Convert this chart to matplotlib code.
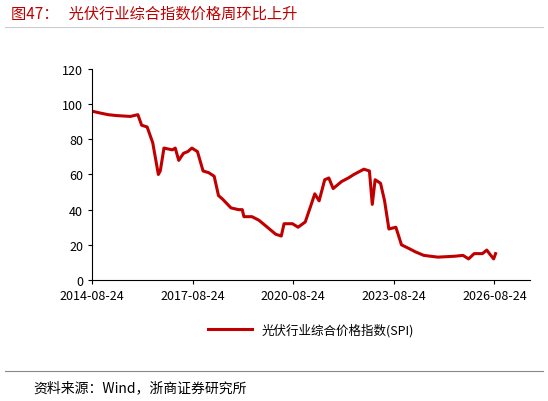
import matplotlib
matplotlib.use("Agg")
import matplotlib.pyplot as plt
import matplotlib.dates as mdates
import pandas as pd

plt.rcParams['font.family'] = ['Noto Sans CJK SC', 'DejaVu Sans']

dates = ["2014-08-24","2014-11-15","2015-02-15","2015-05-15","2015-10-15","2016-01-05","2016-02-15",
         "2016-04-15","2016-06-15","2016-08-15","2016-09-05","2016-10-15","2017-01-15","2017-02-15",
         "2017-03-25","2017-05-15","2017-07-01","2017-08-15","2017-10-15","2017-12-15","2018-02-15",
         "2018-04-15","2018-06-01","2018-07-15","2018-10-15","2019-01-05","2019-02-15","2019-03-05",
         "2019-06-01","2019-08-15","2019-11-15","2020-02-15","2020-04-15","2020-05-15","2020-08-15",
         "2020-10-15","2021-01-01","2021-03-01","2021-04-15","2021-06-01","2021-08-01","2021-09-15",
         "2021-11-01","2022-02-01","2022-04-15","2022-06-15","2022-10-01","2022-12-01","2023-01-01",
         "2023-02-01","2023-04-01","2023-05-15","2023-07-01","2023-09-15","2023-11-15","2024-02-01",
         "2024-04-15","2024-07-15","2024-12-15","2025-06-15","2025-09-15","2025-11-15","2026-01-15",
         "2026-04-15","2026-06-01","2026-07-15","2026-08-15","2026-09-05"]
spi = [96,95,94,93.5,93,94,88,87,78,60,62,75,74,75,68,72,73,75,73,62,61,59,48,46,41,40,40,36,
       36,34,30,26,25,32,32,30,33,42,49,45,57,58,52,56,58,60,63,62,43,57,55,45,29,30,20,18,16,14,
       13,13.5,14,12,15,15,17,14,12,15]
xticks = ["2014-08-24","2017-08-24","2020-08-24","2023-08-24","2026-08-24"]
title = "图47：   光伏行业综合指数价格周环比上升"
legend_label = "光伏行业综合价格指数(SPI)"
source = "资料来源：Wind，浙商证券研究所"

red = "#C00000"
fig = plt.figure(figsize=(5.48, 4.02), dpi=100)
ax = fig.add_axes([0.168, 0.301, 0.80, 0.525])
ax.plot(pd.to_datetime(dates), spi, color=red, lw=2.2)
ax.set_ylim(0, 120)
ax.set_yticks(range(0, 121, 20))
ax.set_xlim(pd.Timestamp("2014-08-24"), pd.Timestamp("2027-09-20"))
ax.set_xticks(pd.to_datetime(xticks))
ax.set_xticklabels(xticks)
for s in ["top", "right"]:
    ax.spines[s].set_visible(False)
ax.tick_params(labelsize=9, direction="out", length=3)
ax.legend([legend_label], loc="upper center", bbox_to_anchor=(0.5, -0.15),
          frameon=False, fontsize=9, handlelength=3.5)

fig.text(0.02, 0.965, title, color=red, fontsize=11, va="center")
fig.add_artist(plt.Line2D([0.01, 0.99], [0.93, 0.93], color="#cccccc", lw=0.8))
fig.add_artist(plt.Line2D([0.01, 0.99], [0.075, 0.075], color="#888888", lw=0.8))
fig.text(0.06, 0.035, source, fontsize=10, va="center")
fig.savefig("out.png", dpi=100)
